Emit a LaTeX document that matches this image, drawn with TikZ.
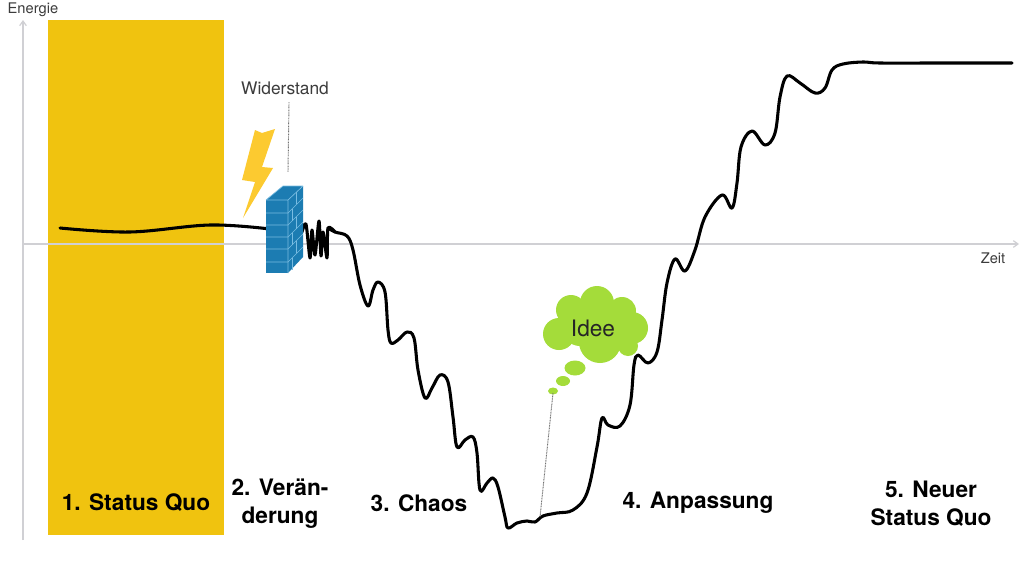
\documentclass[tikz,border=0pt]{standalone}
\usepackage{fontspec}
\setmainfont{TeX Gyre Heros}
\usetikzlibrary{arrows.meta}
\definecolor{sqyellow}{RGB}{240,195,15}
\definecolor{boltyellow}{RGB}{252,202,48}
\definecolor{wallblue}{RGB}{28,124,178}
\definecolor{brickline}{RGB}{120,188,226}
\definecolor{ideagreen}{RGB}{164,220,58}
\definecolor{axisgray}{RGB}{208,208,212}
\definecolor{txtgray}{RGB}{60,60,60}
\tikzset{
  phase/.style={font=\fontsize{17}{21}\selectfont\bfseries, align=center, text=black},
  smalltxt/.style={font=\fontsize{11}{13}\selectfont, text=txtgray},
  axisline/.style={draw=axisgray, line width=0.9pt, -{Straight Barb[length=3.5pt,width=5pt]}},
  pointer/.style={draw=black!55, line width=0.7pt, dash pattern=on 0.7pt off 0.5pt},
  energy/.style={draw=black, line width=2.3pt, line cap=round, line join=round},
}
\begin{document}
\begin{tikzpicture}[x=0.75pt,y=-0.75pt]
\useasboundingbox (0,0) rectangle (1024,575);
\fill[white] (0,0) rectangle (1024,575);
% status quo band
\fill[sqyellow] (48,20) rectangle (224,535);
% axes
\coordinate (origin) at (23,540);
\coordinate (ytop) at (23,20);
\coordinate (xleft) at (23,244);
\coordinate (xright) at (1019,244);
\draw[axisline] (origin) -- (ytop);
\draw[axisline] (xleft) -- (xright);
\node[smalltxt, anchor=west] (energie) at (3,10) {Energie};
\node[smalltxt, anchor=east] (zeit) at (1010,258) {Zeit};
% energy curve: status quo part
\draw[energy] plot[smooth, tension=0.6] coordinates {(60,228) (130,232) (210,225) (270,229)};
% scribble after wall
\draw[energy] plot[smooth, tension=0.45] coordinates {(302,232) (306,224) (310,258) (312,230) (315,255) (319,221) (321,256) (323,232) (327,258) (328,228) (335,232)};
% main curve
\draw[energy] plot[smooth, tension=0.6] coordinates {
(328,228) (335,232) (347,236) (353,250) (360,285) (368,306) (373,290) (378,282) (385,292) (388,330) (391,343) (398,340) (407,332) (414,338) (418,370) (425,398) (432,388) (440,375) (448,382) (453,417) (457,447) (465,440) (473,437) (477,453) (480,490) (487,483) (493,478) (498,487) (505,517) (508,528) (517,523) (527,521) (535,522) (543,516) (557,513) (573,510) (587,493) (597,447) (602,418) (608,425) (620,426) (630,405) (634,365) (638,355) (648,363) (657,352) (662,320) (667,283) (675,259) (685,271) (695,250) (705,217) (722,195) (732,208) (737,183) (741,147) (752,131) (765,145) (775,133) (780,97) (787,76) (800,83) (815,93) (825,88) (832,70) (843,64) (863,62) (880,63) (940,63) (1012,63)};
% lightning
\fill[boltyellow] (255,130) -- (262,133) -- (275,129) -- (262,167) -- (273,168) -- (243,218) -- (255,182) -- (242,180) -- cycle;
% wall
\fill[wallblue] (266,200) rectangle (288,273);
\fill[wallblue] (288,200) -- (303,186) -- (303,257) -- (288,273) -- cycle;
\fill[wallblue] (266,200) -- (283,186) -- (303,186) -- (288,200) -- cycle;
\draw[brickline, line width=0.5pt] (266,200) -- (283,186) -- (303,186) (288,200) -- (303,186) (266,200) -- (288,200) -- (288,273);
\foreach \yy in {213,225,237,249,262} {
  \draw[brickline, line width=0.5pt] (266,\yy) -- (288,\yy) -- (303,\yy-15);
}
\foreach \yy/\xx in {200/296,213/292,225/296,237/292,249/296,262/292} {
  \draw[brickline, line width=0.5pt] (\xx,\yy-\xx+288) -- (\xx,\yy+12-\xx+288);
}
% Widerstand label
\node[font=\fontsize{13}{15}\selectfont, text=txtgray] (widerstand) at (285,88) {Widerstand};
\coordinate (wallpoint) at (288,172);
\draw[pointer] (widerstand.south) ++(4,3) -- (wallpoint);
% idea cloud
\begin{scope}[fill=ideagreen]
\fill (559,334) circle (16);
\fill (571,310) circle (15);
\fill (597,303) circle (17);
\fill (622,311) circle (14);
\fill (632,328) circle (16);
\fill (600,342) circle (21);
\fill (628,346) circle (10);
\fill (580,328) circle (18);
\fill (612,325) circle (18);
\fill (575,368) ellipse (10.5 and 7.5);
\fill (563,381) ellipse (7 and 5);
\fill (553,391) ellipse (5 and 3.5);
\end{scope}
\node[font=\fontsize{17}{20}\selectfont, text=black!85] (idee) at (593,328) {Idee};
\coordinate (bubble) at (553,393);
\coordinate (ideapoint) at (540,517);
\draw[pointer] (bubble) -- (ideapoint);
% phase labels
\node[phase] (p1) at (136,503) {1. Status Quo};
\node[phase] (p2) at (280,504) {2. Verän-\\derung};
\node[phase] (p3) at (419,503) {3. Chaos};
\node[phase] (p4) at (698,503) {4. Anpassung};
\node[phase] (p5) at (931,504) {5. Neuer\\Status Quo};
\end{tikzpicture}
\end{document}
